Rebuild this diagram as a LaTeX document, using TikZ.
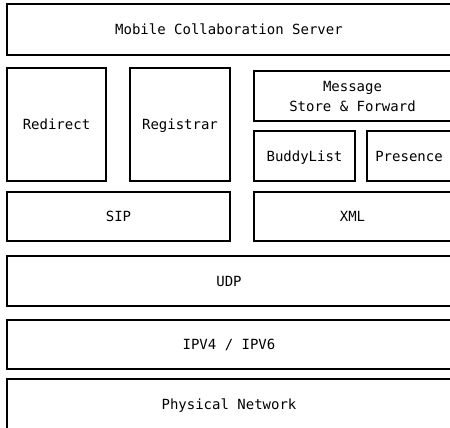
\documentclass[tikz,border=0pt]{standalone}
\usepackage{fontspec}
\setmonofont{DejaVu Sans Mono}
\usetikzlibrary{positioning}

\tikzset{
    layer/.style={draw, line width=1.1pt, inner sep=0pt, outer sep=0pt,
        anchor=north west, align=center,
        font=\ttfamily\fontsize{14}{20}\selectfont},
    onerow/.style={layer, text height=12pt, text depth=2pt},
}

\begin{document}
\begin{tikzpicture}[x=1pt, y=-1pt]
    \useasboundingbox (0,0) rectangle (450,428);

    % application layer
    \node[onerow, minimum width=444pt, minimum height=51pt] (server) at (7,4) {Mobile Collaboration Server};

    \node[onerow, minimum width=99pt, minimum height=113pt] (redirect) at (7,68) {Redirect};
    \node[onerow, minimum width=100pt, minimum height=113pt] (registrar) [right=24pt of redirect] {Registrar};

    \node[layer, minimum width=197pt, minimum height=50pt] (message) at (254,71) {Message\\Store \& Forward};
    \node[onerow, minimum width=101pt, minimum height=50pt] (buddy) at (254,131) {BuddyList};
    \node[onerow, minimum width=84pt, minimum height=50pt] (presence) [right=12pt of buddy] {Presence};

    % protocols
    \node[onerow, minimum width=223pt, minimum height=49pt] (sip) at (7,192) {SIP};
    \node[onerow, minimum width=197pt, minimum height=49pt] (xml) at (254,192) {XML};

    % transport and below
    \node[onerow, minimum width=444pt, minimum height=50pt] (udp) at (7,256) {UDP};
    \node[onerow, minimum width=444pt, minimum height=49pt] (ip) at (7,320) {IPV4 / IPV6};
    \node[onerow, minimum width=444pt, minimum height=50pt] (phy) at (7,379) {Physical Network};
\end{tikzpicture}
\end{document}
